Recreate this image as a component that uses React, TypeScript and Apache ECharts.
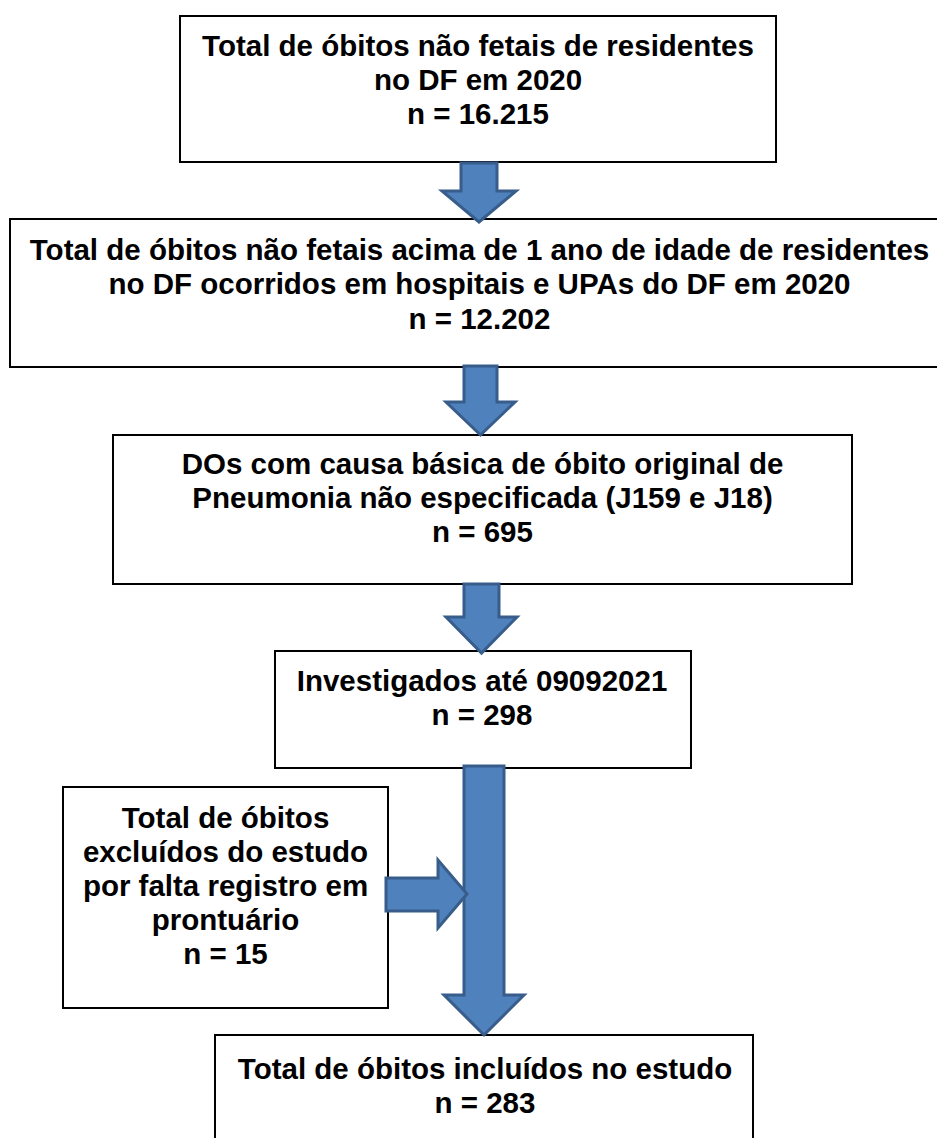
import React, { useEffect, useRef } from "react";
import * as echarts from "echarts";

// ---- data (text content of the flowchart) ----
const box1Title = ["Total de óbitos não fetais de residentes", "no DF em 2020"];
const box2Title = [
  "Total de óbitos não fetais acima de 1 ano de idade de residentes",
  "no DF ocorridos em hospitais e UPAs do DF em 2020",
];
const box3Title = ["DOs com causa básica de óbito original de", "Pneumonia não especificada (J159 e J18)"];
const box4Title = ["Investigados até 09092021"];
const box5Title = ["Total de óbitos", "excluídos do estudo", "por falta registro em", "prontuário"];
const box6Title = ["Total de óbitos incluídos no estudo"];
const counts = ["16.215", "12.202", "695", "298", "15", "283"];

const FONT = "'Liberation Sans', Arial, Helvetica, sans-serif";
const FILL = "#4F81BD";
const EDGE = "#385D8A";

type Box = { x: number; y: number; w: number; h: number; cx: number; firstMid: number; step: number; lines: string[] };

function buildBoxes(): Box[] {
  return [
    { x: 180, y: 16, w: 596, h: 146, cx: 478, firstMid: 45.5, step: 34, lines: [...box1Title, "n = " + counts[0]] },
    { x: 10, y: 219, w: 940, h: 148, cx: 479.5, firstMid: 249, step: 34.5, lines: [...box2Title, "n = " + counts[1]] },
    { x: 113, y: 435, w: 739, h: 149, cx: 482.5, firstMid: 463.5, step: 34, lines: [...box3Title, "n = " + counts[2]] },
    { x: 275, y: 651, w: 416, h: 117, cx: 482, firstMid: 680, step: 34.5, lines: [...box4Title, "n = " + counts[3]] },
    { x: 63, y: 787, w: 325, h: 221, cx: 225.5, firstMid: 817, step: 34, lines: [...box5Title, "n = " + counts[4]] },
    { x: 215, y: 1035, w: 538, h: 120, cx: 485, firstMid: 1068, step: 34.5, lines: [...box6Title, "n = " + counts[5]] },
  ];
}

function downArrow(sl: number, sr: number, hl: number, hr: number, top: number, headTop: number, tip: number) {
  const cx = (hl + hr) / 2;
  return [
    [sl, top],
    [sr, top],
    [sr, headTop],
    [hr, headTop],
    [cx, tip],
    [hl, headTop],
    [sl, headTop],
  ];
}

function rightArrow(left: number, headX: number, tipX: number, st: number, sb: number, ht: number, hb: number) {
  const cy = (ht + hb) / 2;
  return [
    [left, st],
    [headX, st],
    [headX, ht],
    [tipX, cy],
    [headX, hb],
    [headX, sb],
    [left, sb],
  ];
}

export default function App() {
  const ref = useRef<HTMLDivElement>(null);
  useEffect(() => {
    if (!ref.current) return;
    const chart = echarts.init(ref.current, undefined, { renderer: "svg" });
    const elements: any[] = [];
    buildBoxes().forEach((b) => {
      elements.push({
        type: "rect",
        z: 1,
        shape: { x: b.x, y: b.y, width: b.w, height: b.h },
        style: { fill: "#ffffff", stroke: "#000000", lineWidth: 2 },
      });
      b.lines.forEach((t, j) => {
        elements.push({
          type: "text",
          z: 3,
          x: b.cx,
          y: b.firstMid + j * b.step,
          style: {
            text: t,
            fill: "#000000",
            font: `bold 29.5px ${FONT}`,
            textAlign: "center",
            textVerticalAlign: "middle",
          },
        });
      });
    });
    const arrows = [
      downArrow(461, 497, 442, 516, 163, 191, 222),
      downArrow(464, 497, 446, 515, 366, 402, 435),
      downArrow(464, 499, 446, 517, 584, 617, 653),
      downArrow(464, 504, 444, 524, 766, 995, 1035),
      rightArrow(386, 438, 467, 878, 911, 860, 928),
    ];
    arrows.forEach((pts) => {
      elements.push({
        type: "polygon",
        z: 2,
        shape: { points: pts },
        style: { fill: FILL, stroke: EDGE, lineWidth: 3, lineJoin: "miter" },
      });
    });
    chart.setOption({
      animation: false,
      backgroundColor: "#ffffff",
      graphic: { elements },
    });
    return () => chart.dispose();
  }, []);
  return (
    <div
      ref={ref}
      style={{ position: "absolute", left: 0, top: 0, width: 937, height: 1138, background: "#fff" }}
    />
  );
}
